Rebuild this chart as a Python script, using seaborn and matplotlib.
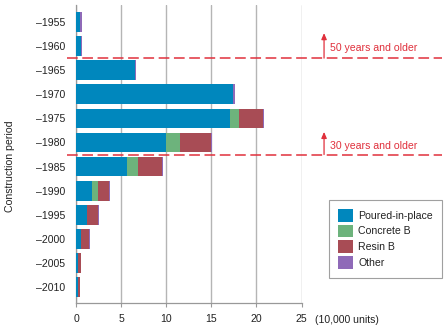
import matplotlib
matplotlib.use("Agg")
import matplotlib.pyplot as plt
import matplotlib.transforms as mtransforms
from matplotlib.patches import Patch
import seaborn as sns
import pandas as pd
import numpy as np

periods = ["–1955", "–1960", "–1965", "–1970", "–1975", "–1980", "–1985",
           "–1990", "–1995", "–2000", "–2005", "–2010"]
poured = [0.45, 0.6, 6.5, 17.4, 17.1, 10.0, 5.7, 1.75, 1.2, 0.6, 0.2, 0.25]
concrete = [0.0, 0.0, 0.0, 0.0, 1.0, 1.5, 1.2, 0.65, 0.0, 0.0, 0.0, 0.0]
resin = [0.0, 0.0, 0.0, 0.0, 2.65, 3.45, 2.6, 1.3, 1.25, 0.85, 0.3, 0.15]
other = [0.25, 0.06, 0.15, 0.2, 0.1, 0.1, 0.1, 0.1, 0.06, 0.05, 0.04, 0.08]
series = ["Poured-in-place", "Concrete B", "Resin B", "Other"]
colors = ["#0087bd", "#6db37c", "#a84c55", "#8f6ab8"]
xticks = [0, 5, 10, 15, 20, 25]

sns.set_theme(style="white")
plt.rcParams["font.family"] = ["Liberation Sans", "DejaVu Sans"]
FS = 7.6

fig = plt.figure(figsize=(4.48, 3.29), dpi=100)
ax = fig.add_axes([76 / 448, 1 - 303 / 329, 225.5 / 448, 298 / 329])

vals = np.array([poured, concrete, resin, other])
cum = np.cumsum(vals, axis=0)
for i in range(3, -1, -1):
    df = pd.DataFrame({"period": periods, "value": cum[i]})
    sns.barplot(data=df, x="value", y="period", orient="h", color=colors[i],
                saturation=1, width=0.82, ax=ax, zorder=3, linewidth=0)

ax.set_xlim(0, 25)
ax.set_ylim(11.66, -0.705)
ax.set_xticks(xticks)
ax.set_xticklabels([str(t) for t in xticks], fontsize=FS, color="#222222")
ax.tick_params(axis="y", labelsize=FS, colors="#222222", length=0, pad=8)
ax.tick_params(axis="x", length=3, width=0.8, color="#999999", pad=5, bottom=True)
ax.set_xlabel("")
ax.set_ylabel("Construction period", fontsize=FS, color="#222222", labelpad=15)
ax.yaxis.label.set_y(0.46)
ax.xaxis.grid(True, color="#b5b5b5", linewidth=1, zorder=0)
ax.set_axisbelow(True)
for s in ["top", "right"]:
    ax.spines[s].set_visible(False)
for s in ["left", "bottom"]:
    ax.spines[s].set_color("#999999")
    ax.spines[s].set_linewidth(0.9)
ax.text(1.06, -0.058, "(10,000 units)", transform=ax.transAxes, fontsize=FS,
        color="#222222", va="center", ha="left")

red = "#e0303c"
trans = mtransforms.blended_transform_factory(ax.transAxes, ax.transData)
for yline, ytop, label in [(1.5, 0.46, "50 years and older"), (5.5, 4.56, "30 years and older")]:
    ax.plot([-0.04, 1.623], [yline, yline], transform=trans, clip_on=False,
            color=red, linewidth=1.1, linestyle=(0, (7, 3)), zorder=5)
    ax.annotate("", xy=(1.10, ytop), xytext=(1.10, yline), xycoords=trans,
                textcoords=trans, annotation_clip=False,
                arrowprops=dict(arrowstyle="-|>,head_length=0.3,head_width=0.13",
                                color=red, lw=0.9, shrinkA=0, shrinkB=0))
    ax.text(1.127, (ytop + yline) / 2 + 0.1, label, transform=trans, color=red,
            fontsize=FS, va="center", ha="left")

handles = [Patch(facecolor=c, edgecolor="none", label=l) for c, l in zip(colors, series)]
leg = fig.legend(handles=handles, loc="upper left",
                 bbox_to_anchor=(329 / 448, 1 - 200 / 329), fontsize=FS,
                 frameon=True, fancybox=False, edgecolor="#888888",
                 handlelength=1.45, handleheight=1.45, handletextpad=0.45,
                 labelspacing=0.3, borderpad=0.85, borderaxespad=0)
leg.get_frame().set_linewidth(0.8)
for t in leg.get_texts():
    t.set_color("#222222")

fig.savefig("out.png", dpi=100)
